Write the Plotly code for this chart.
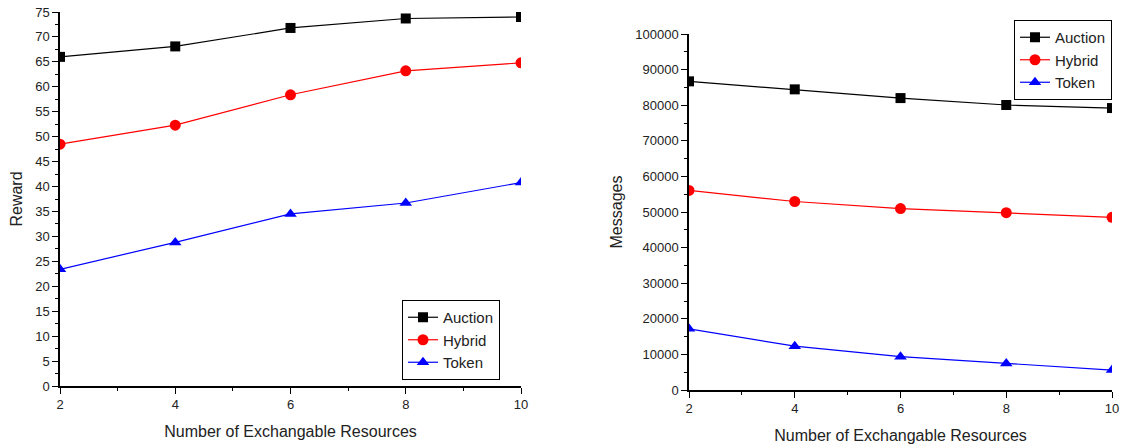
import plotly.graph_objects as go

resources = [2, 4, 6, 8, 10]

reward_auction = [66.0, 68.1, 71.8, 73.7, 74.0]
reward_hybrid = [48.5, 52.3, 58.4, 63.2, 64.8]
reward_token = [23.4, 28.8, 34.5, 36.7, 40.8]

msg_auction = [86700, 84450, 82000, 80050, 79200]
msg_hybrid = [56050, 52950, 50950, 49800, 48500]
msg_token = [17200, 12300, 9350, 7450, 5600]

series_names = ["Auction", "Hybrid", "Token"]
colors = ["#000000", "#ff0000", "#0000ff"]
symbols = ["square", "circle", "triangle-up"]
sizes = [10, 11, 11]

W, H = 1141, 444
fig = go.Figure()

left = [reward_auction, reward_hybrid, reward_token]
right = [msg_auction, msg_hybrid, msg_token]

for i, name in enumerate(series_names):
    fig.add_trace(go.Scatter(
        x=resources, y=left[i], name=name, mode="lines+markers",
        line=dict(color=colors[i], width=1.2),
        marker=dict(symbol=symbols[i], size=sizes[i], color=colors[i]),
        xaxis="x", yaxis="y", legend="legend", cliponaxis=True))
for i, name in enumerate(series_names):
    fig.add_trace(go.Scatter(
        x=resources, y=right[i], name=name, mode="lines+markers",
        line=dict(color=colors[i], width=1.2),
        marker=dict(symbol=symbols[i], size=sizes[i], color=colors[i]),
        xaxis="x2", yaxis="y2", legend="legend2", cliponaxis=True))

FAM = "Liberation Sans, Arial, sans-serif"
tickfont = dict(family=FAM, size=13, color="#222")
titlefont = dict(family=FAM, size=16, color="#222")

def xax(domain, anchor):
    return dict(domain=domain, anchor=anchor, range=[2, 10], dtick=2, tick0=2,
                automargin=False,
                showgrid=False, zeroline=False, showline=True, linecolor="#000",
                linewidth=1.5, ticks="outside", ticklen=6, tickcolor="#000",
                tickwidth=1.2, tickfont=tickfont,
                minor=dict(ticks="outside", dtick=1, ticklen=3, tickcolor="#000", tickwidth=1.2),
                title=dict(text="Number of Exchangable Resources", font=titlefont, standoff=14))

def yax(domain, anchor, rng, dtick, minor_dtick, title):
    return dict(domain=domain, anchor=anchor, range=rng, dtick=dtick, tick0=0,
                automargin=False, tickformat="d",
                showgrid=False, zeroline=False, showline=True, linecolor="#000",
                linewidth=1.5, ticks="outside", ticklen=6, tickcolor="#000",
                tickwidth=1.2, tickfont=tickfont,
                minor=dict(ticks="outside", dtick=minor_dtick, ticklen=3, tickcolor="#000", tickwidth=1.2),
                title=dict(text=title, font=titlefont, standoff=9))

legend_common = dict(bordercolor="#000", borderwidth=1, bgcolor="white",
                     font=dict(family=FAM, size=15, color="#222"),
                     tracegroupgap=0, itemsizing="trace")

fig.update_layout(
    width=W, height=H,
    margin=dict(l=0, r=0, t=0, b=0),
    paper_bgcolor="white", plot_bgcolor="white",
    font=tickfont,
    xaxis=xax([60 / W, 521 / W], "y"),
    yaxis=yax([1 - 386 / H, 1 - 12 / H], "x", [0, 75], 5, 2.5, "Reward"),
    xaxis2=xax([689 / W, 1112 / W], "y2"),
    yaxis2=yax([1 - 390 / H, 1 - 34 / H], "x2", [0, 100000], 10000, 5000, "Messages"),
    legend=dict(x=500 / W, y=1 - 300 / H, xanchor="right", yanchor="top", **legend_common),
    legend2=dict(x=1112 / W, y=1 - 20 / H, xanchor="right", yanchor="top", **legend_common),
)

fig.write_html("out.html")
